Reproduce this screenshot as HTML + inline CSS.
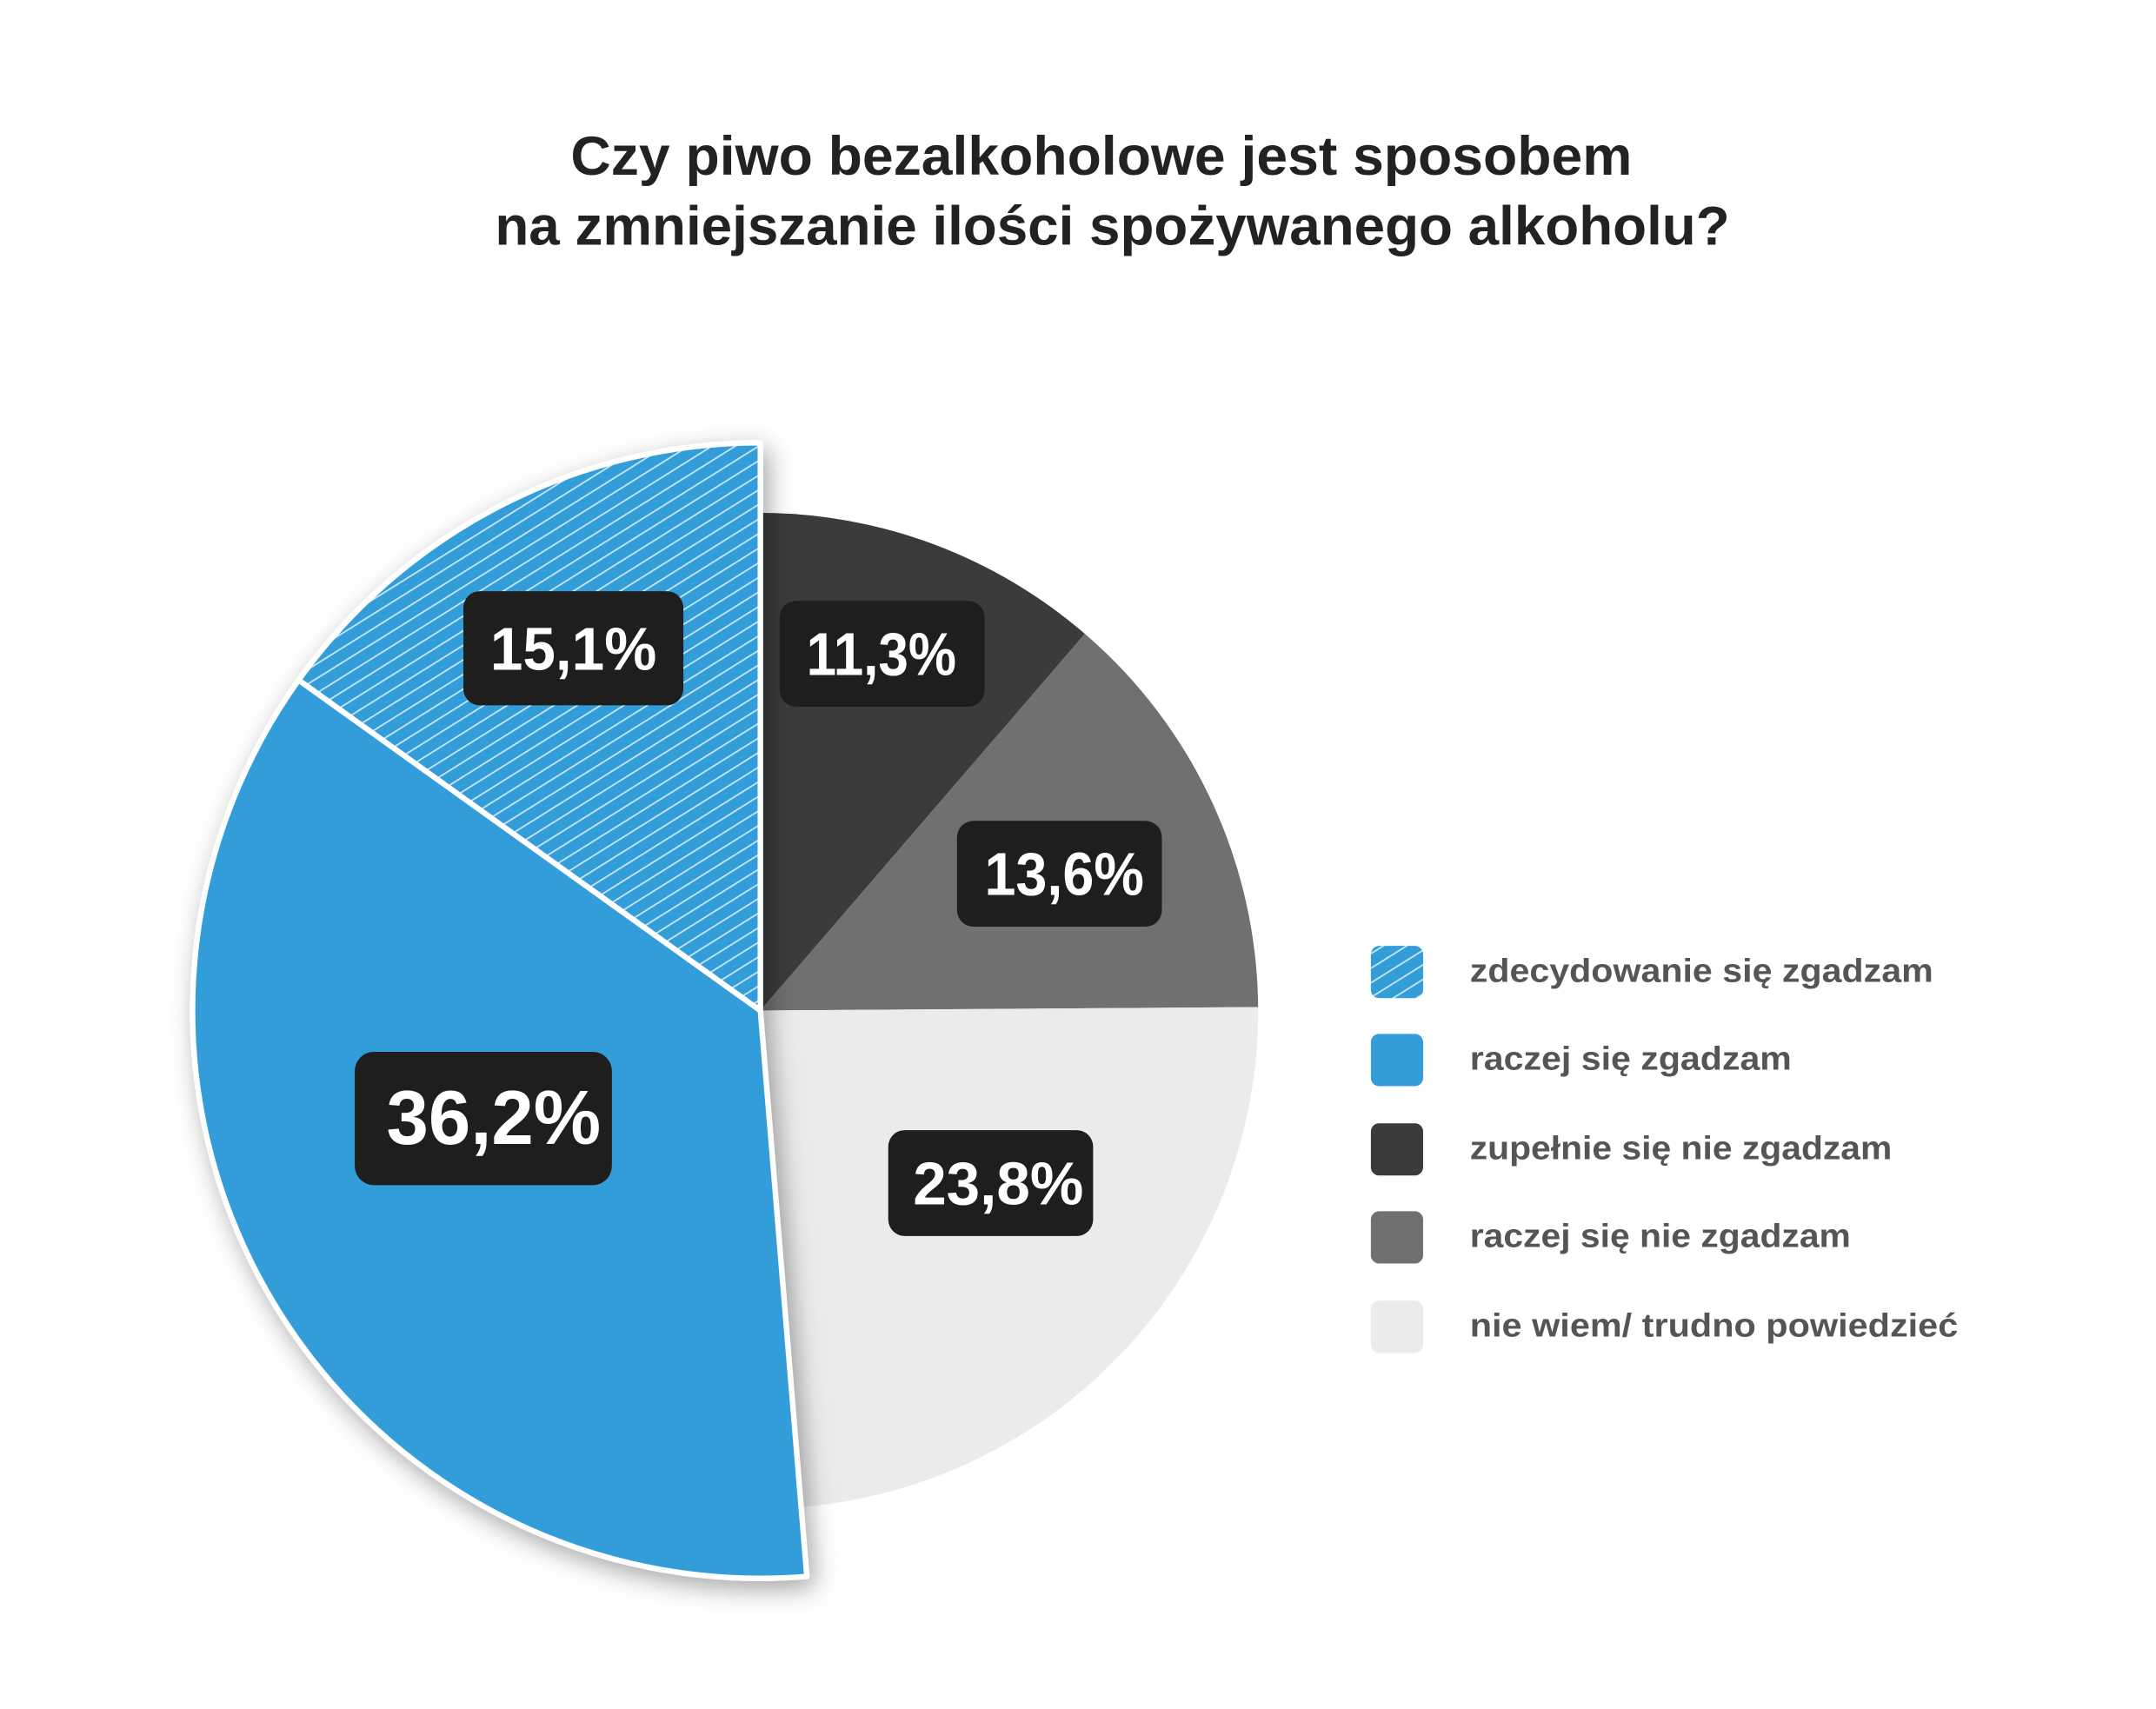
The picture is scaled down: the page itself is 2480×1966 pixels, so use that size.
<!DOCTYPE html>
<html><head><meta charset="utf-8"><style>
html,body{margin:0;padding:0;background:#fff}
svg{display:block}
</style></head><body>
<svg width="2480" height="1966" viewBox="0 0 1568 1243" xmlns="http://www.w3.org/2000/svg" font-family="'Liberation Sans', sans-serif">
<defs>
<pattern id="h" patternUnits="userSpaceOnUse" width="9" height="9" patternTransform="rotate(-32)">
<rect width="9" height="9" fill="#339dd8"/>
<rect y="0" width="9" height="1.1" fill="#cfe8f6"/>
</pattern>
<filter id="sh" x="-20%" y="-20%" width="140%" height="140%">
<feDropShadow dx="4" dy="6" stdDeviation="9" flood-color="#000" flood-opacity="0.35"/>
</filter>
</defs>
<rect width="1568" height="1243" fill="#fff"/>
<text x="801" y="127" text-anchor="middle" font-size="40" font-weight="bold" fill="#222" textLength="772" lengthAdjust="spacingAndGlyphs">Czy piwo bezalkoholowe jest sposobem</text>
<text x="809" y="178" text-anchor="middle" font-size="40" font-weight="bold" fill="#222" textLength="898" lengthAdjust="spacingAndGlyphs">na zmniejszanie ilości spożywanego alkoholu?</text>

<path d="M553,735 L553,373 A362,362 0 0 1 789,461 Z" fill="#3b3b3b"/>
<path d="M553,735 L789,461 A362,362 0 0 1 915,732.5 Z" fill="#707070"/>
<path d="M553,735 L915,732.5 A362,362 0 0 1 583,1096 Z" fill="#ebebeb"/>
<g filter="url(#sh)">
<path d="M553,735 L586.8,1146.6 A413,413 0 0 1 217.2,494.6 Z" fill="#339dd8" stroke="#fff" stroke-width="4" stroke-linejoin="round"/>
<path d="M553,735 L217.2,494.6 A413,413 0 0 1 553,322 Z" fill="url(#h)" stroke="#fff" stroke-width="4" stroke-linejoin="round"/>
</g>

<g font-weight="bold" fill="#fff" text-anchor="middle">
<rect x="337" y="430" width="160" height="83" rx="12" fill="#1e1e1e"/>
<text x="417" y="487" font-size="44" textLength="121" lengthAdjust="spacingAndGlyphs">15,1%</text>
<rect x="567" y="437" width="149" height="77" rx="12" fill="#1e1e1e"/>
<text x="641" y="491" font-size="44" textLength="109" lengthAdjust="spacingAndGlyphs">11,3%</text>
<rect x="696" y="597" width="149" height="77" rx="12" fill="#1e1e1e"/>
<text x="774" y="651" font-size="44" textLength="116" lengthAdjust="spacingAndGlyphs">13,6%</text>
<rect x="258" y="765" width="187" height="97" rx="14" fill="#1e1e1e"/>
<text x="359" y="832" font-size="56" textLength="156" lengthAdjust="spacingAndGlyphs">36,2%</text>
<rect x="646" y="822" width="149" height="77" rx="12" fill="#1e1e1e"/>
<text x="726" y="876" font-size="44" textLength="124" lengthAdjust="spacingAndGlyphs">23,8%</text>
</g>

<g font-size="24" font-weight="bold" fill="#555">
<rect x="997" y="688" width="38" height="38" rx="6" fill="url(#h)"/>
<text x="1069" y="714" textLength="337" lengthAdjust="spacingAndGlyphs">zdecydowanie się zgadzam</text>
<rect x="997" y="752" width="38" height="38" rx="6" fill="#339dd8"/>
<text x="1069" y="778" textLength="234" lengthAdjust="spacingAndGlyphs">raczej się zgadzam</text>
<rect x="997" y="817" width="38" height="38" rx="6" fill="#3b3b3b"/>
<text x="1069" y="843" textLength="307" lengthAdjust="spacingAndGlyphs">zupełnie się nie zgadzam</text>
<rect x="997" y="881" width="38" height="38" rx="6" fill="#707070"/>
<text x="1069" y="907" textLength="277" lengthAdjust="spacingAndGlyphs">raczej się nie zgadzam</text>
<rect x="997" y="946" width="38" height="38" rx="6" fill="#ebebeb"/>
<text x="1069" y="972" textLength="355" lengthAdjust="spacingAndGlyphs">nie wiem/ trudno powiedzieć</text>
</g>
</svg>
</body></html>
